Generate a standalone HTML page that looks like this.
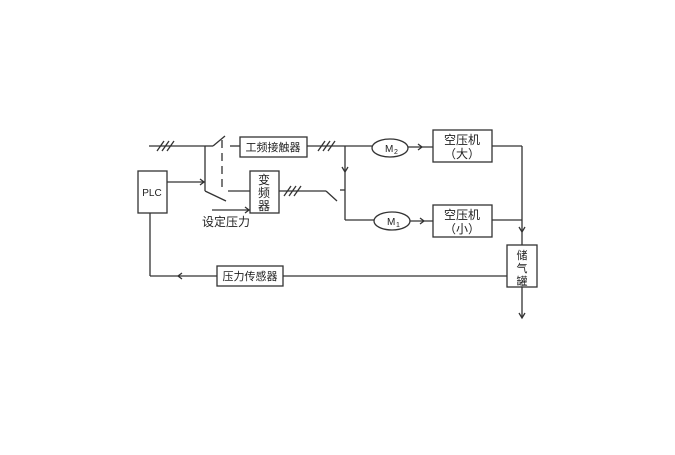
<!DOCTYPE html>
<html><head><meta charset="utf-8"><style>
html,body{margin:0;padding:0;background:#fff;}
svg text{font-family:"Liberation Sans","Noto Sans CJK SC",sans-serif;fill:#222;}
</style></head><body>
<svg width="675" height="450" viewBox="0 0 675 450" xmlns="http://www.w3.org/2000/svg">
<g stroke="#333" stroke-width="1.3" fill="none">
<line x1="149" y1="146" x2="205" y2="146"/>
<line x1="157" y1="151" x2="164" y2="141"/><line x1="162" y1="151" x2="169" y2="141"/><line x1="167" y1="151" x2="174" y2="141"/>
<line x1="205" y1="146" x2="205" y2="191"/>
<line x1="205" y1="146" x2="213" y2="146"/>
<line x1="213" y1="146" x2="225" y2="136"/>
<line x1="230" y1="146" x2="240" y2="146"/>
<rect x="240" y="137" width="67" height="20" fill="#fff"/>
<line x1="307" y1="146" x2="372" y2="146"/>
<line x1="318" y1="151" x2="325" y2="141"/><line x1="323" y1="151" x2="330" y2="141"/><line x1="328" y1="151" x2="335" y2="141"/>
<line x1="345" y1="146" x2="345" y2="220"/>
<path d="M342 167 L345 172 L348 167"/>
<ellipse cx="390" cy="148" rx="18" ry="9" fill="#fff"/>
<line x1="408" y1="147" x2="433" y2="147"/>
<path d="M418 144 L422 147 L418 150"/>
<rect x="433" y="130" width="59" height="32" fill="#fff"/>
<line x1="492" y1="146" x2="522" y2="146"/>
<line x1="522" y1="146" x2="522" y2="245"/>
<path d="M519 227 L522 232 L525 227"/>
<rect x="507" y="245" width="30" height="42" fill="#fff"/>
<line x1="522" y1="287" x2="522" y2="318"/>
<path d="M519 313 L522 318 L525 313"/>
<rect x="138" y="171" width="29" height="42" fill="#fff"/>
<line x1="167" y1="182" x2="205" y2="182"/>
<path d="M200 179 L204 182 L200 185"/>
<line x1="205" y1="191" x2="226" y2="201"/>
<line x1="222" y1="140" x2="222" y2="190" stroke-dasharray="8,5"/>
<line x1="228" y1="191" x2="250" y2="191"/>
<rect x="250" y="171" width="29" height="42" fill="#fff"/>
<line x1="212" y1="210" x2="250" y2="210"/>
<path d="M245 207 L249 210 L245 213"/>
<line x1="279" y1="191" x2="326" y2="191"/>
<line x1="284" y1="196" x2="291" y2="186"/><line x1="289" y1="196" x2="296" y2="186"/><line x1="294" y1="196" x2="301" y2="186"/>
<line x1="326" y1="191" x2="337" y2="201"/>
<line x1="340" y1="190" x2="345" y2="190"/>
<line x1="345" y1="220" x2="374" y2="220"/>
<ellipse cx="392" cy="221" rx="18" ry="9" fill="#fff"/>
<line x1="410" y1="221" x2="433" y2="221"/>
<path d="M420 218 L424 221 L420 224"/>
<rect x="433" y="205" width="59" height="32" fill="#fff"/>
<line x1="492" y1="220" x2="522" y2="220"/>
<line x1="150" y1="213" x2="150" y2="276"/>
<line x1="150" y1="276" x2="507" y2="276"/>
<path d="M182 273 L178 276 L182 279"/>
<rect x="217" y="266" width="66" height="20" fill="#fff"/>
</g>
<g font-size="11">
<text x="273" y="151" text-anchor="middle">工频接触器</text>
<text x="264" y="184" text-anchor="middle" font-size="12">变</text>
<text x="264" y="197" text-anchor="middle" font-size="12">频</text>
<text x="264" y="210" text-anchor="middle" font-size="12">器</text>
<text x="152" y="196" text-anchor="middle" font-size="10">PLC</text>
<text x="226" y="226" text-anchor="middle" font-size="12">设定压力</text>
<text x="385" y="152" font-size="10">M</text><text x="394" y="154" font-size="7">2</text>
<text x="387" y="225" font-size="10">M</text><text x="396" y="227" font-size="7">1</text>
<text x="462" y="144" text-anchor="middle" font-size="12">空压机</text>
<text x="462" y="158" text-anchor="middle" font-size="12">（大）</text>
<text x="462" y="219" text-anchor="middle" font-size="12">空压机</text>
<text x="462" y="233" text-anchor="middle" font-size="12">（小）</text>
<text x="522" y="259" text-anchor="middle">储</text>
<text x="522" y="272" text-anchor="middle">气</text>
<text x="522" y="285" text-anchor="middle">罐</text>
<text x="250" y="280" text-anchor="middle">压力传感器</text>
</g>
</svg>
</body></html>
